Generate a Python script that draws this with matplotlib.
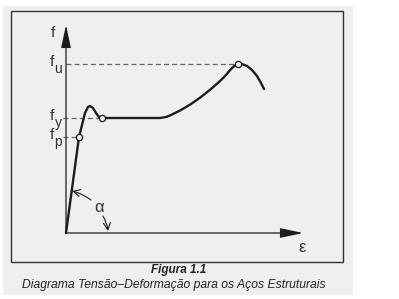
import matplotlib.pyplot as plt
from matplotlib.patches import Rectangle

# stress-strain curve (arbitrary units)
strain = [0, 13, 16, 19, 22, 24, 27, 30, 33, 36, 60, 94, 100, 105, 115, 125, 135,
          145, 153, 160, 165, 169, 172, 176, 181, 186, 191, 195, 198]
stress = [0, 96, 108, 120, 126, 127, 125, 120, 116, 115, 115, 115, 116, 118, 123, 129, 136,
          144, 151, 158, 164, 167.5, 169, 169, 167, 163, 157, 150, 144]

# marked points: proportional limit, yield, ultimate
mark_names = ['p', 'y', 'u']
mark_strain = [13, 36, 172]
mark_stress = [96, 115, 169]

caption_title = 'Figura 1.1'
caption_text = 'Diagrama Tensão–Deformação para os Aços Estruturais'

plt.rcParams['font.family'] = ['Liberation Sans', 'DejaVu Sans']

W, H = 399, 299
fig = plt.figure(figsize=(W / 100, H / 100), dpi=100)
fig.patch.set_facecolor('white')

# scanned page background + frame
fig.patches.append(Rectangle((3 / W, 1 - 295 / H), 350 / W, 289 / H,
                             transform=fig.transFigure, facecolor='#efefef',
                             edgecolor='none', zorder=-2))
fig.patches.append(Rectangle((11 / W, 1 - 262 / H), 332 / W, 251 / H,
                             transform=fig.transFigure, facecolor='none',
                             edgecolor='#333333', lw=1.0, zorder=-1))

ax = fig.add_axes([66 / W, 1 - 233 / H, 237 / W, 208 / H])
ax.set_xlim(0, 237)
ax.set_ylim(0, 208)
ax.axis('off')

bg = '#efefef'
ink = '#1c1c1c'
txt = '#333333'

# axes with filled arrow heads
ax.annotate('', xy=(237, 0), xytext=(0, 0),
            arrowprops=dict(arrowstyle='-|>,head_length=1.4,head_width=0.3',
                            color=ink, lw=0.9, shrinkA=0, shrinkB=0),
            annotation_clip=False)
ax.annotate('', xy=(0, 208), xytext=(0, 0),
            arrowprops=dict(arrowstyle='-|>,head_length=1.4,head_width=0.3',
                            color=ink, lw=0.9, shrinkA=0, shrinkB=0),
            annotation_clip=False)

# dashed guide lines and f labels with near full-size subscripts
for name, xs, ys in zip(mark_names, mark_strain, mark_stress):
    x0 = 0 if name == 'u' else -3
    ax.plot([x0, xs], [ys, ys], ls=(0, (4, 2.5)), color='#666666', lw=0.9,
            clip_on=False)
    ax.text(-14, ys + 2, 'f', fontsize=11, ha='center', va='center', color=txt)
    ax.text(-8, ys - 5, name, fontsize=10, ha='center', va='center', color=txt)

ax.plot(strain, stress, color=ink, lw=1.7, solid_capstyle='round',
        solid_joinstyle='round', clip_on=False)
ax.plot(mark_strain, mark_stress, 'o', ms=4.5, mfc=bg, mec=ink, mew=0.9,
        clip_on=False)

ax.text(-13, 200, 'f', fontsize=11, ha='center', va='center', color=txt)
ax.text(236, -15, 'ε', fontsize=12, ha='center', va='center', color=txt)

# angle alpha
ax.text(33, 25, 'α', fontsize=12, ha='center', va='center', color=txt)
ax.annotate('', xy=(6, 42), xytext=(25, 33),
            arrowprops=dict(arrowstyle='->,head_length=0.5,head_width=0.25',
                            color=ink, lw=0.8, connectionstyle='arc3,rad=0.1',
                            shrinkA=0, shrinkB=0))
ax.annotate('', xy=(42, 2), xytext=(37, 17),
            arrowprops=dict(arrowstyle='->,head_length=0.5,head_width=0.25',
                            color=ink, lw=0.8, connectionstyle='arc3,rad=-0.1',
                            shrinkA=0, shrinkB=0))

fig.text(179 / W, 1 - 270 / H, caption_title, fontsize=8.5, fontweight='bold',
         style='italic', ha='center', va='center', color='#222222')
fig.text(174 / W, 1 - 285 / H, caption_text, fontsize=8.7, style='italic',
         ha='center', va='center', color='#222222')

fig.savefig('out.png', dpi=100)
